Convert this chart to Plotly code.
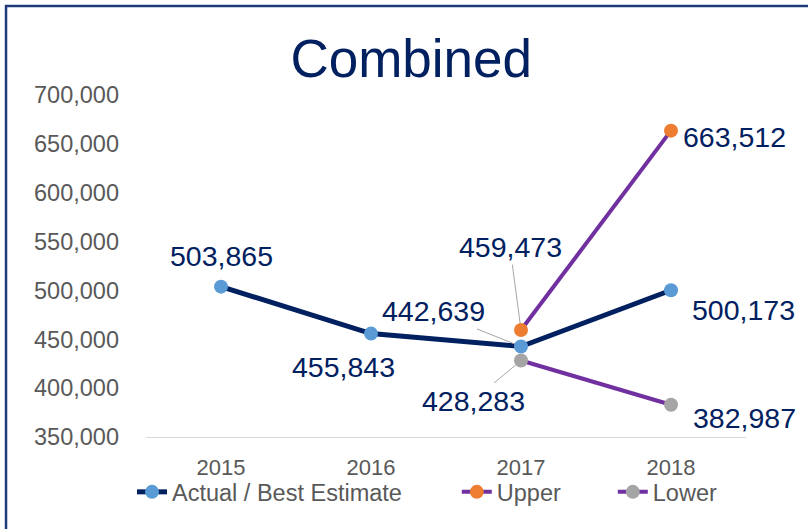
import plotly.graph_objects as go

years = ["2015", "2016", "2017", "2018"]
actual = [503865, 455843, 442639, 500173]
upper_years = ["2017", "2018"]
upper = [459473, 663512]
lower_years = ["2017", "2018"]
lower = [428283, 382987]

NAVY = "#002060"
PURPLE = "#7030A0"
FONT = "Liberation Sans, Arial, sans-serif"

fig = go.Figure()
fig.add_trace(go.Scatter(x=upper_years, y=upper, name="Upper", mode="lines+markers",
                         line=dict(color=PURPLE, width=4),
                         marker=dict(color="#ED7D31", size=14), legend="legend2"))
fig.add_trace(go.Scatter(x=years, y=actual, name="Actual / Best Estimate", mode="lines+markers",
                         line=dict(color=NAVY, width=5),
                         marker=dict(color="#5B9BD5", size=14), legend="legend"))
fig.add_trace(go.Scatter(x=lower_years, y=lower, name="Lower", mode="lines+markers",
                         line=dict(color=PURPLE, width=4),
                         marker=dict(color="#A5A5A5", size=14), legend="legend3"))

def fmt(v):
    return f"{v:,}"

def idx(cat):
    return years.index(cat)

lab_font = dict(family=FONT, size=28.5, color=NAVY)
# plain labels (xshift, yshift offsets in px)
plain = [
    (years[0], actual[0], 0, 31),
    (years[1], actual[1], -28, -33),
    (years[3], actual[3], 72, -20),
    (upper_years[1], upper[1], 63, -6),
    (lower_years[1], lower[1], 73, -13),
]
for x, y, xs, ys in plain:
    fig.add_annotation(x=idx(x), y=y, text=fmt(y), showarrow=False, xshift=xs, yshift=ys,
                       font=lab_font)

# labels with leader lines
leaders = [
    (years[2], actual[2], -88, -35),
    (upper_years[0], upper[0], -11, -83),
    (lower_years[0], lower[0], -48, 40),
]
for x, y, ax, ay in leaders:
    fig.add_annotation(x=idx(x), y=y, text=fmt(y), showarrow=True, ax=ax, ay=ay,
                       arrowhead=0, arrowwidth=1, arrowcolor="#A6A6A6", standoff=7,
                       font=lab_font)

# outer frame (only left/top visible in the picture)
fig.add_shape(type="rect", xref="paper", yref="paper",
              x0=-0.2333, x1=1.3, y0=-0.6, y1=1.2602,
              line=dict(color="#1F3A7A", width=2.5), layer="below")

leg_common = dict(orientation="h", y=-0.161, yanchor="middle", xanchor="left",
                  font=dict(family=FONT, size=23.5, color="#595959"), bgcolor="rgba(0,0,0,0)")

fig.update_layout(
    width=808, height=529,
    margin=dict(l=146, r=62, t=95, b=92),
    paper_bgcolor="white", plot_bgcolor="white",
    font=dict(family=FONT),
    title=dict(text="Combined", x=0.509, xanchor="center", y=1 - 58 / 529, yanchor="middle",
               font=dict(family=FONT, size=53, color=NAVY)),
    showlegend=True,
    legend=dict(x=-0.0233, **leg_common),
    legend2=dict(x=0.518, **leg_common),
    legend3=dict(x=0.778, **leg_common),
    xaxis=dict(type="category", categoryorder="array", categoryarray=years,
               showgrid=False, showline=True, linecolor="#D9D9D9", linewidth=1,
               ticks="", tickfont=dict(family=FONT, size=22, color="#595959"),
               ticklabelstandoff=11, range=[-0.5, 3.5], fixedrange=True),
    yaxis=dict(range=[350000, 700000], dtick=50000, tickformat=",", showgrid=False,
               zeroline=False, showline=False, ticks="",
               tickfont=dict(family=FONT, size=23.5, color="#595959"),
               ticklabelstandoff=26),
)

fig.write_html("out.html")
